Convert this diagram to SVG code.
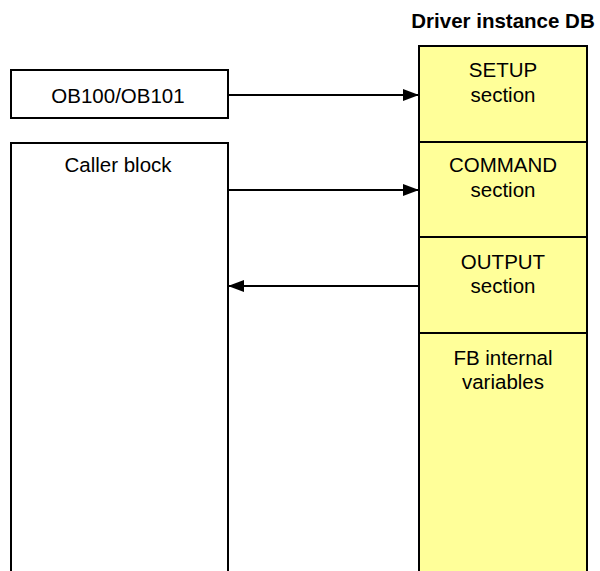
<svg xmlns="http://www.w3.org/2000/svg" width="600" height="571" viewBox="0 0 600 571">
  <style>
    .box { fill: #ffffff; stroke: #000000; stroke-width: 2; }
    .db { fill: #ffff99; stroke: #000000; stroke-width: 2; }
    .lbl { font-family: "Liberation Sans", Arial, sans-serif; font-size: 20.5px; fill: #000000; text-anchor: middle; }
    .title { font-family: "Liberation Sans", Arial, sans-serif; font-size: 20.5px; font-weight: bold; fill: #000000; text-anchor: middle; }
    .conn { stroke: #000000; stroke-width: 2; fill: none; marker-end: url(#arrow); }
  </style>
  <defs>
    <marker id="arrow" viewBox="0 0 16 12" refX="16" refY="6" markerWidth="16" markerHeight="12" markerUnits="userSpaceOnUse" orient="auto">
      <path d="M0,0 L16,6 L0,12 Z" fill="#000000"/>
    </marker>
  </defs>

  <text class="title" x="503" y="28">Driver instance DB</text>

  <g id="ob100">
    <rect class="box" x="11" y="70" width="217" height="48"/>
    <text class="lbl" x="118" y="103">OB100/OB101</text>
  </g>

  <g id="caller">
    <path class="box" d="M11,575 L11,143 L228,143 L228,575"/>
    <text class="lbl" x="118" y="172">Caller block</text>
  </g>

  <g id="setup">
    <rect class="db" x="419" y="46" width="168" height="96"/>
    <text class="lbl" x="503" y="77">SETUP</text>
    <text class="lbl" x="503" y="102">section</text>
  </g>

  <g id="command">
    <rect class="db" x="419" y="142" width="168" height="95"/>
    <text class="lbl" x="503" y="172">COMMAND</text>
    <text class="lbl" x="503" y="197">section</text>
  </g>

  <g id="output">
    <rect class="db" x="419" y="237" width="168" height="96"/>
    <text class="lbl" x="503" y="269">OUTPUT</text>
    <text class="lbl" x="503" y="293">section</text>
  </g>

  <g id="internal">
    <path class="db" d="M419,575 L419,333 L587,333 L587,575"/>
    <text class="lbl" x="503" y="365">FB internal</text>
    <text class="lbl" x="503" y="389">variables</text>
  </g>

  <g id="connectors">
    <line class="conn" x1="228" y1="95" x2="419" y2="95"/>
    <line class="conn" x1="228" y1="190" x2="419" y2="190"/>
    <line class="conn" x1="419" y1="286" x2="228" y2="286"/>
  </g>
</svg>
